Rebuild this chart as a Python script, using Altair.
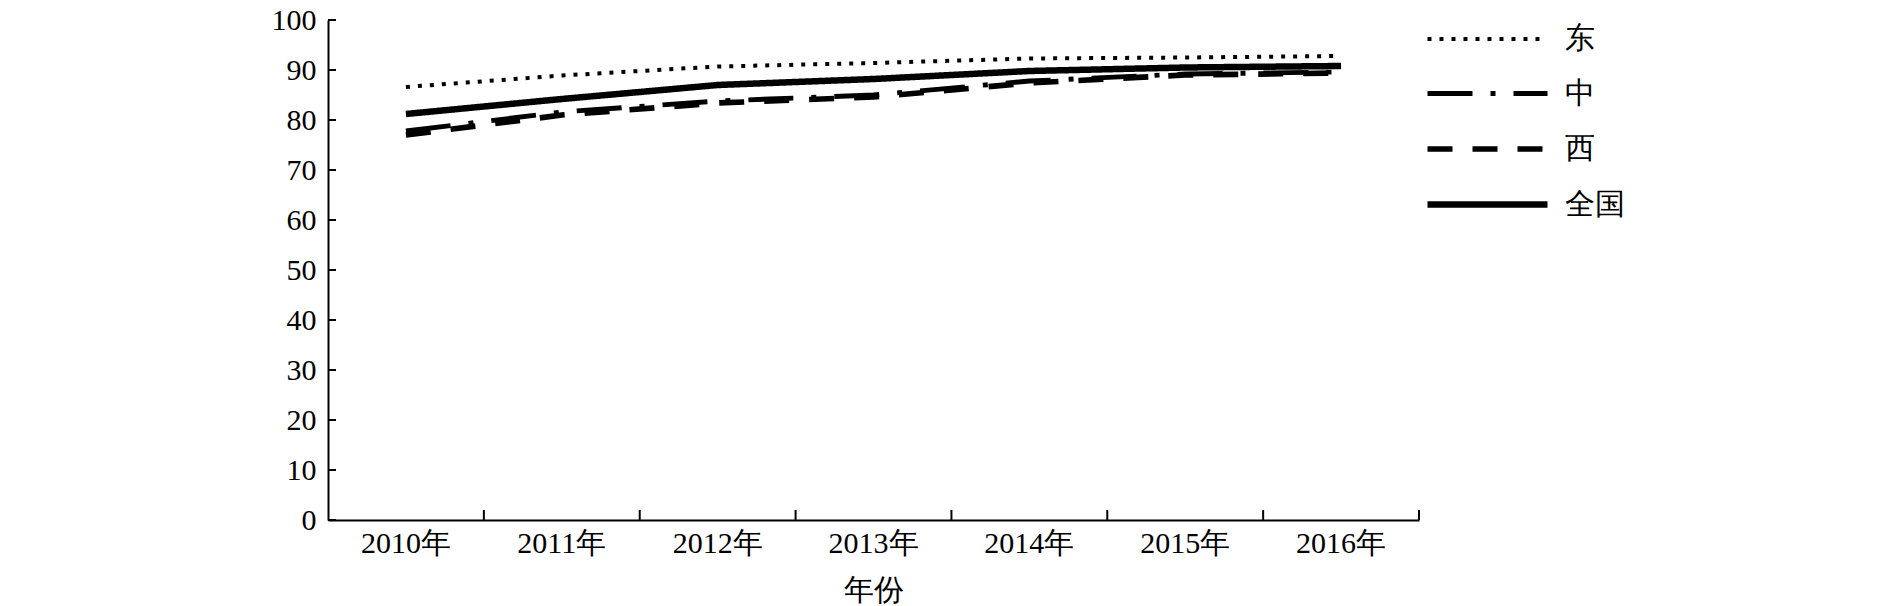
import altair as alt
import pandas as pd

years = ["2010年", "2011年", "2012年", "2013年", "2014年", "2015年", "2016年"]
series = ["东", "中", "西", "全国"]
east = [86.6, 88.9, 90.7, 91.4, 92.3, 92.5, 92.8]
central = [77.8, 81.6, 83.8, 85.0, 87.8, 89.2, 89.6]
west = [77.0, 81.0, 83.4, 84.6, 87.4, 89.0, 89.4]
nation = [81.2, 84.2, 87.0, 88.2, 89.8, 90.5, 90.8]
yticks = [0, 10, 20, 30, 40, 50, 60, 70, 80, 90, 100]

rows = []
for s, vals in zip(series, [east, central, west, nation]):
    for yr, v in zip(years, vals):
        rows.append({"年份": yr, "地区": s, "值": v})
df = pd.DataFrame(rows)
df_years = pd.DataFrame({"年份": years})
df_yt = pd.DataFrame({"值": yticks})

W, H = 1091, 500
FONT = "Liberation Serif"

xscale = alt.Scale(type="band", domain=years, paddingInner=0, paddingOuter=0)
yscale = alt.Scale(domain=[0, 100], nice=False, zero=True)

x_axis = alt.Axis(
    title="年份", ticks=False, tickSize=0, domainColor="black", domainWidth=2,
    labelFontSize=30, titleFontSize=30, labelPadding=8, titlePadding=17,
    labelAngle=0, labelColor="black", titleColor="black", labelFont=FONT,
    titleFont=FONT, titleFontWeight="normal", grid=False,
)
y_axis = alt.Axis(
    title=None, values=yticks, ticks=False, tickSize=0, domainColor="black",
    domainWidth=2, labelFontSize=30, labelPadding=12, labelColor="black",
    labelFont=FONT, grid=False,
)

legend = alt.Legend(
    orient="none", legendX=1141, legendY=2, title=None,
    symbolType="M-4,0H4", symbolSize=900, labelFontSize=30, labelFont=FONT,
    labelColor="black", labelOffset=59, rowPadding=22,
    symbolStrokeColor="black", symbolFillColor="transparent",
)

lines = alt.Chart(df).mark_line(color="black", strokeCap="butt").encode(
    x=alt.X("年份:N", sort=years, scale=xscale, axis=x_axis, bandPosition=0.5),
    y=alt.Y("值:Q", scale=yscale, axis=y_axis),
    strokeDash=alt.StrokeDash(
        "地区:N", sort=series,
        scale=alt.Scale(domain=series, range=[[4, 8], [45, 18, 5, 18], [25, 20], [1, 0]]),
        legend=legend,
    ),
    strokeWidth=alt.StrokeWidth(
        "地区:N", sort=series,
        scale=alt.Scale(domain=series, range=[4, 6.5, 6.5, 2.5]),
        legend=legend,
    ),
    detail="地区:N",
)

xticks = alt.Chart(df_years).mark_rule(color="black", strokeWidth=2).encode(
    x=alt.X("年份:N", sort=years, scale=xscale, bandPosition=1, axis=x_axis),
    y=alt.value(H),
    y2=alt.value(H - 10),
)

yticks_layer = alt.Chart(df_yt).mark_rule(color="black", strokeWidth=2).encode(
    y=alt.Y("值:Q", scale=yscale, axis=y_axis),
    x=alt.value(0),
    x2=alt.value(8),
)

chart = alt.layer(lines, xticks, yticks_layer).properties(
    width=W, height=H,
    autosize=alt.AutoSizeParams(type="none"),
    padding={"left": 320, "top": 12, "right": 463, "bottom": 86},
    background="white",
).configure_view(stroke=None)

chart.save("out.html", embed_options={"renderer": "svg", "actions": False})
